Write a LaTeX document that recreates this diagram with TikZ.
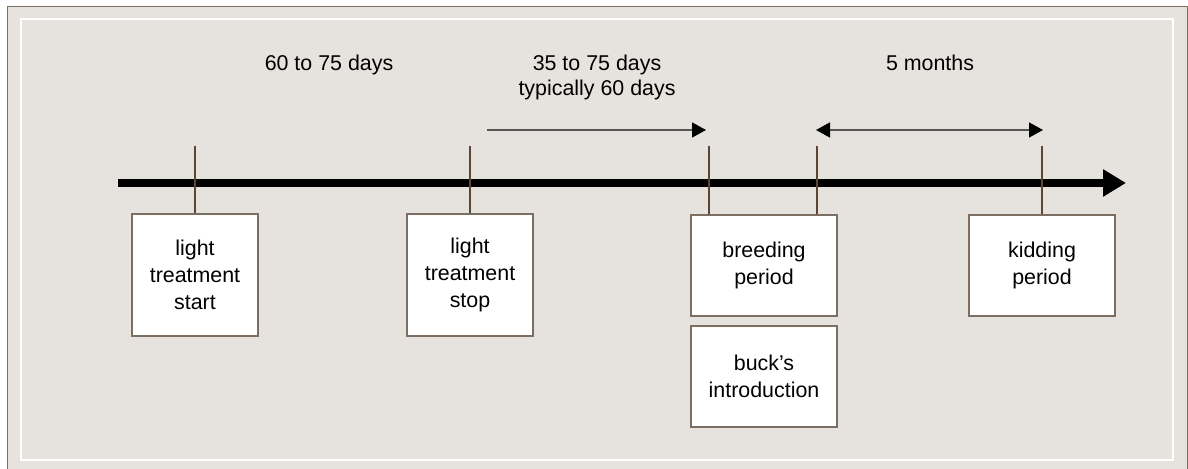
\documentclass[tikz,border=0pt]{standalone}
\usepackage{fontspec}
\setmainfont{Liberation Sans}
\usetikzlibrary{arrows.meta,positioning}
\definecolor{panel}{HTML}{E6E3DE}
\definecolor{frameline}{HTML}{7D6E62}
\definecolor{tickline}{HTML}{5B4535}
\definecolor{spanline}{HTML}{555555}
\tikzset{
  every node/.style={font=\fontsize{10.7}{12.5}\selectfont},
  tbox/.style={draw=frameline, fill=white, line width=0.75pt, align=center, inner sep=0pt,
    font=\fontsize{10.7}{13.5}\selectfont, minimum width=63pt, minimum height=61pt},
  wbox/.style={tbox, minimum width=73pt, minimum height=50.5pt},
  tick/.style={draw=tickline, line width=0.6pt},
  span/.style={draw=spanline, line width=0.75pt},
  spantip/.tip={Triangle[length=7pt,width=7.5pt,color=black]}
}
\begin{document}
\begin{tikzpicture}[x=0.5pt,y=-0.5pt]
    \useasboundingbox (0,0) rectangle (1188,469);
    % frame
    \draw[frameline, line width=0.8pt, fill=panel] (7.5,6.5) rectangle (1187.5,480);
    \draw[white, line width=0.8pt] (21,19) rectangle (1173,460);
    % time line
    \coordinate (l0) at (118,183);
    \coordinate (l1) at (1126,183);
    \draw[line width=4pt, -{Triangle[length=11.5pt,width=13pt]}] (l0) -- (l1);
    % events
    \node[tbox] (start) at (195,275) {light\\treatment\\start};
    \node[tbox] (stop) at (470,275) {light\\treatment\\stop};
    \node[wbox] (breed) at (764,265.5) {breeding\\period};
    \node[wbox] (buck) at (764,376.5) {buck's\\introduction};
    \node[wbox] (kid) at (1042,265.5) {kidding\\period};
    \coordinate (t1) at (195,146);
    \coordinate (t2) at (470,146);
    \coordinate (t3) at (709,146);
    \coordinate (t4) at (817,146);
    \coordinate (t5) at (1042,146);
    \draw[tick] (t1) -- (start.north);
    \draw[tick] (t2) -- (stop.north);
    \draw[tick] (t3) -- (t3 |- breed.north);
    \draw[tick] (t4) -- (t4 |- breed.north);
    \draw[tick] (t5) -- (kid.north);
    % spans
    \coordinate (a1) at (487,130);
    \coordinate (a2) at (706,130);
    \coordinate (b1) at (816,130);
    \coordinate (b2) at (1043,130);
    \draw[span, -spantip] (a1) -- (a2);
    \draw[span, spantip-spantip] (b1) -- (b2);
    \node[anchor=base] (d1) at (329,71) {60 to 75 days};
    \node[anchor=base, align=center] (d2) at (597,96) {35 to 75 days\\typically 60 days};
    \node[anchor=base] (d3) at (930,71) {5 months};
\end{tikzpicture}
\end{document}
